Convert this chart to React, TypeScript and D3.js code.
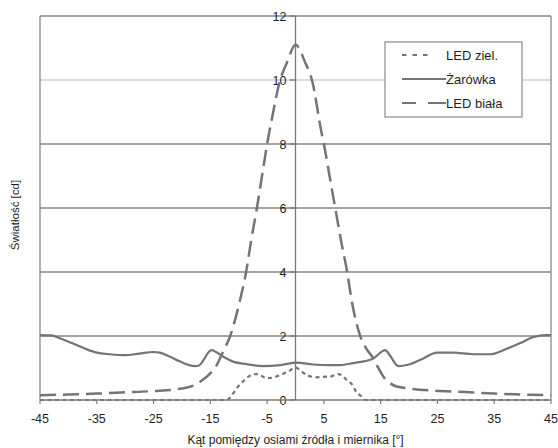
import React from "react";
import * as d3 from "d3";

const W = 558;
const H = 448;

const xTicks = [-45, -35, -25, -15, -5, 5, 15, 25, 35, 45];
const yTicks = [0, 2, 4, 6, 8, 10, 12];

const ledBialaX = [-45, -40, -35, -30, -25, -20, -18, -16.8, -15, -14, -13.3, -12.5, -11.5, -10.5, -9.8, -8.7, -7.8, -6.8, -5.9, -5.0, -4.2, -2.7, -1.5, 0, 1.7, 2.9, 4.6, 5.0, 6.0, 7.0, 8.0, 9.1, 9.9, 10.6, 11.4, 12.5, 13.7, 14.6, 15.5, 16.5, 17.8, 20, 23.7, 30, 35, 40, 45];
const ledBialaY = [0.15, 0.17, 0.2, 0.24, 0.28, 0.36, 0.45, 0.57, 0.83, 1.05, 1.3, 1.6, 2.0, 2.6, 3.1, 4.0, 5.0, 6.0, 7.0, 8.0, 8.75, 10.0, 10.55, 11.1, 10.55, 10.0, 8.34, 8.0, 7.0, 6.0, 5.0, 4.0, 3.1, 2.5, 2.0, 1.6, 1.3, 1.0, 0.73, 0.55, 0.42, 0.36, 0.3, 0.25, 0.2, 0.17, 0.15];

const zarowkaX = [-45, -43, -41.5, -39.4, -37, -35, -32.7, -30, -27.5, -25, -23.9, -22.1, -20.3, -17.7, -17, -14.8, -14, -12.7, -11, -8.6, -5.7, -2.7, 0.2, 3.1, 6.1, 7.8, 10.1, 13.7, 15.8, 16.6, 18.1, 19.8, 22.5, 24.9, 27.8, 31.3, 34.3, 37.2, 39.5, 41.8, 44.2, 45];
const zarowkaY = [2.03, 2.02, 1.93, 1.78, 1.6, 1.48, 1.43, 1.4, 1.45, 1.5, 1.48, 1.35, 1.2, 1.06, 1.08, 1.56, 1.5, 1.35, 1.2, 1.12, 1.06, 1.09, 1.17, 1.11, 1.09, 1.09, 1.15, 1.3, 1.56, 1.4, 1.06, 1.1, 1.3, 1.48, 1.48, 1.43, 1.43, 1.6, 1.77, 1.96, 2.03, 2.03];

const ledZielX = [-45, -12.1, -11, -10.1, -9, -8.3, -7.5, -6.8, -6, -5.1, -4, -2.7, -1.2, 0, 1, 2, 3.7, 5.5, 6.1, 7.5, 8.1, 9.0, 10.2, 10.5, 11.7, 12.3, 45];
const ledZielY = [0, 0, 0.2, 0.42, 0.62, 0.73, 0.8, 0.81, 0.76, 0.68, 0.7, 0.78, 0.9, 1.02, 0.9, 0.78, 0.71, 0.73, 0.73, 0.81, 0.78, 0.63, 0.42, 0.31, 0.1, 0, 0];

const seriesNames = ["LED ziel.", "Żarówka", "LED biała"];

const LEFT = 40;
const RIGHT = 551;
const TOP = 16;
const BOTTOM = 400;
const LINE = "#747474";
const TXT = "#1e1e1e";
const FONT = "'Liberation Sans', Arial, sans-serif";

export default function App() {
  const x = d3.scaleLinear().domain([-45, 45]).range([LEFT, RIGHT]);
  const y = d3.scaleLinear().domain([0, 12]).range([BOTTOM, TOP]);

  const mk = (xs: number[], ys: number[]) =>
    d3
      .line<number>()
      .x((_, i) => x(xs[i]))
      .y((_, i) => y(ys[i]))
      .curve(d3.curveMonotoneX)(ys) || "";

  const styles = [
    { dash: "4,3.5", width: 2.2 },
    { dash: "none", width: 2.2 },
    { dash: "16,7", width: 2.5 },
  ];
  const paths = [mk(ledZielX, ledZielY), mk(zarowkaX, zarowkaY), mk(ledBialaX, ledBialaY)];

  const x0 = x(0);
  const legX = 385;
  const legY = 42;
  const legRowY = [55, 79, 103];
  const legSamples = [
    [[402, 432, "4.5,6"]],
    [[402, 446, "none"]],
    [[402, 416, "none"], [428, 446, "none"]],
  ] as [number, number, string][][];

  return (
    <svg width={W} height={H} style={{ position: "absolute", left: 0, top: 0, background: "#fff" }} fontFamily={FONT}>
      <rect x={0} y={0} width={W} height={H} fill="#fff" />
      {yTicks.filter((t) => t > 0).map((t) => (
        <line key={"g" + t} x1={LEFT} x2={RIGHT} y1={y(t)} y2={y(t)} stroke={t === 10 ? "#cfcfcf" : "#858585"} strokeWidth={1.3} />
      ))}
      <line x1={LEFT} x2={LEFT} y1={TOP} y2={BOTTOM} stroke="#8a8a8a" strokeWidth={1.3} />
      <line x1={RIGHT} x2={RIGHT} y1={TOP} y2={BOTTOM} stroke="#8a8a8a" strokeWidth={1.3} />
      <line x1={x0} x2={x0} y1={TOP} y2={BOTTOM} stroke="#7a7a7a" strokeWidth={1.3} />
      {yTicks.map((t) => (
        <g key={"yt" + t}>
          <line x1={x0 - 6} x2={x0} y1={y(t)} y2={y(t)} stroke="#7a7a7a" strokeWidth={1.3} />
          <text x={x0 - 9} y={y(t) + 4.5} textAnchor="end" fontSize={12.5} fill={TXT}>{t}</text>
        </g>
      ))}
      {paths.map((p, i) => (
        <path key={"s" + i} d={p} fill="none" stroke={LINE} strokeWidth={styles[i].width} strokeDasharray={styles[i].dash} />
      ))}
      <line x1={LEFT} x2={RIGHT} y1={BOTTOM} y2={BOTTOM} stroke="#7a7a7a" strokeWidth={1.5} />
      {xTicks.map((t) => (
        <g key={"xt" + t}>
          <line x1={x(t)} x2={x(t)} y1={BOTTOM} y2={BOTTOM + 4} stroke="#7a7a7a" strokeWidth={1.2} />
          <text x={x(t)} y={BOTTOM + 23} textAnchor="middle" fontSize={12.5} fill={TXT}>{t}</text>
        </g>
      ))}
      <text x={x0} y={444} textAnchor="middle" fontSize={12} fill={TXT}>Kąt pomiędzy osiami źródła i miernika [°]</text>
      <text transform={`translate(19,${(TOP + BOTTOM) / 2 + 7}) rotate(-90)`} textAnchor="middle" fontSize={11.5} fill={TXT}>Światłość [cd]</text>
      <rect x={legX} y={legY} width={137} height={75} fill="#fff" stroke="#8a8a8a" strokeWidth={1.2} />
      {seriesNames.map((n, i) => (
        <g key={"l" + i}>
          {legSamples[i].map((s, j) => (
            <line key={j} x1={s[0]} x2={s[1]} y1={legRowY[i]} y2={legRowY[i]} stroke={LINE} strokeWidth={2} strokeDasharray={s[2]} />
          ))}
          <text x={446} y={legRowY[i] + 4.5} fontSize={13} fill={TXT}>{n}</text>
        </g>
      ))}
    </svg>
  );
}
